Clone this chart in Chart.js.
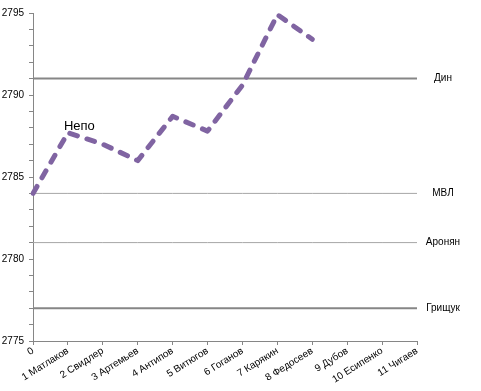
<!DOCTYPE html>
<html lang="ru">
<head>
<meta charset="utf-8">
<title>Рейтинг</title>
<script src="https://cdn.jsdelivr.net/npm/chart.js@4.4.0/dist/chart.umd.min.js"></script>
<style>
  html, body { margin: 0; padding: 0; background: #fff; }
  #wrap { width: 481px; height: 391px; }
</style>
</head>
<body>
<div id="wrap"><canvas id="chart" width="481" height="391"></canvas></div>
<script>
// categories along the x axis
const rounds = ['0', '1 Матлаков', '2 Свидлер', '3 Артемьев', '4 Антипов', '5 Витюгов',
                '6 Гоганов', '7 Карякин', '8 Федосеев', '9 Дубов', '10 Есипенко', '11 Чигаев'];
// live rating after each round
const rating = [2784.0, 2787.7, 2787.0, 2786.0, 2788.7, 2787.8, 2790.6, 2794.9, 2793.4, null, null, null];
const seriesName = 'Непо';
// reference players
const refNames = ['Дин', 'МВЛ', 'Аронян', 'Грищук'];
const refValues = [2791, 2784, 2781, 2777];
const refBold = [true, false, false, true];

const font = 'Liberation Sans, Arial, sans-serif';

const refSets = refNames.map((name, i) => ({
    label: name,
    data: rounds.map(() => refValues[i]),
    borderColor: refBold[i] ? '#868686' : '#a6a6a6',
    borderWidth: refBold[i] ? 2 : 1,
    pointRadius: 0,
    fill: false
}));

// names on the right of the reference lines + label of the main series
const labelPlugin = {
    id: 'labels',
    afterDatasetsDraw(chart) {
        const ctx = chart.ctx;
        const y = chart.scales.y;
        const area = chart.chartArea;
        ctx.save();
        ctx.fillStyle = '#000';
        ctx.font = '10px ' + font;
        ctx.textAlign = 'center';
        ctx.textBaseline = 'middle';
        refNames.forEach((name, i) => {
            ctx.fillText(name, area.right + 26, y.getPixelForValue(refValues[i]));
        });
        const pt = chart.getDatasetMeta(0).data[1];
        ctx.font = '13px ' + font;
        ctx.textAlign = 'left';
        ctx.textBaseline = 'alphabetic';
        ctx.fillText(seriesName, pt.x - 4, pt.y - 3);
        ctx.restore();
    }
};

new Chart(document.getElementById('chart'), {
    type: 'line',
    data: {
        labels: rounds,
        datasets: [{
            label: seriesName,
            data: rating,
            borderColor: '#8064A2',
            borderWidth: 5,
            borderDash: [8, 10],
            borderCapStyle: 'round',
            borderJoinStyle: 'round',
            pointRadius: 0,
            tension: 0,
            fill: false
        }].concat(refSets)
    },
    options: {
        responsive: false,
        animation: false,
        layout: { padding: { top: 13, right: 64, left: 0, bottom: 0 } },
        plugins: { legend: { display: false }, tooltip: { enabled: false } },
        scales: {
            x: {
                offset: false,
                grid: { drawOnChartArea: false, color: '#868686', tickLength: 4 },
                border: { color: '#868686' },
                ticks: {
                    color: '#000', font: { family: font, size: 10 },
                    minRotation: 32, maxRotation: 32, autoSkip: false, padding: 0
                },
                afterFit(s) { s.height = 50; }
            },
            y: {
                min: 2775, max: 2795,
                grid: { drawOnChartArea: false, color: '#868686', tickLength: 4 },
                border: { color: '#868686' },
                ticks: {
                    stepSize: 1, autoSkip: false, padding: 5,
                    color: '#000', font: { family: font, size: 10 },
                    callback: v => (v % 5 === 0 ? String(v) : '')
                },
                afterFit(s) { s.width = 33; }
            }
        }
    },
    plugins: [labelPlugin]
});
</script>
</body>
</html>
